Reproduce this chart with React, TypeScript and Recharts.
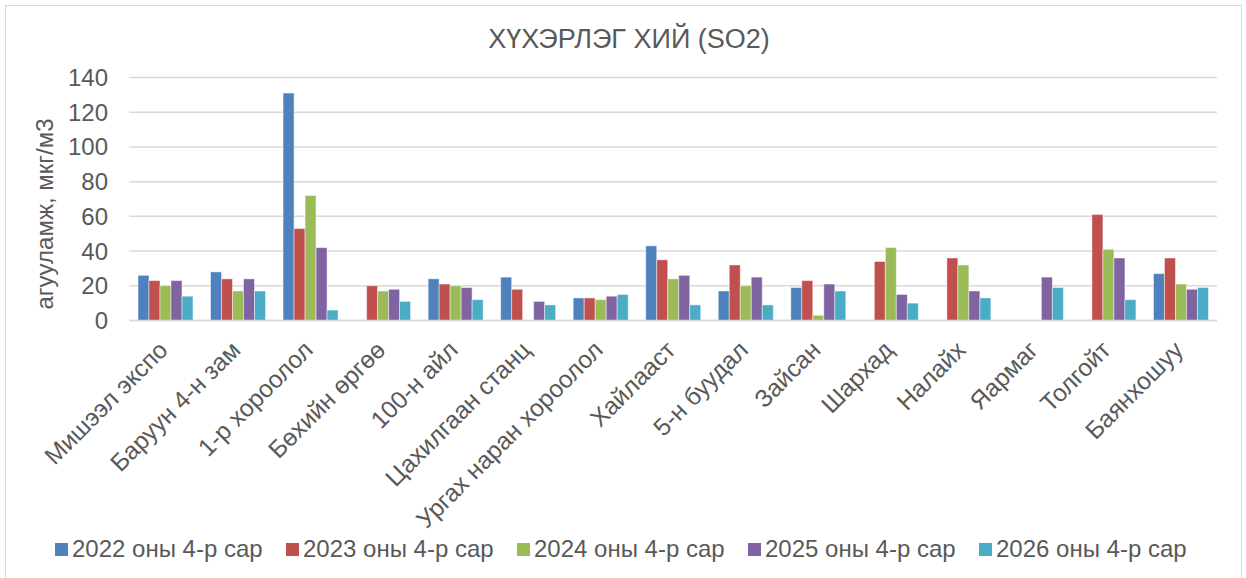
import React from "react";
import { BarChart, Bar, XAxis, YAxis, CartesianGrid, Legend } from "recharts";

const categories = [
  "Мишээл экспо",
  "Баруун 4-н зам",
  "1-р хороолол",
  "Бөхийн өргөө",
  "100-н айл",
  "Цахилгаан станц",
  "Ургах наран хороолол",
  "Хайлааст",
  "5-н буудал",
  "Зайсан",
  "Шархад",
  "Налайх",
  "Яармаг",
  "Толгойт",
  "Баянхошуу",
];

const s2022 = [26, 28, 131, null, 24, 25, 13, 43, 17, 19, null, null, null, null, 27];
const s2023 = [23, 24, 53, 20, 21, 18, 13, 35, 32, 23, 34, 36, null, 61, 36];
const s2024 = [20, 17, 72, 17, 20, null, 12, 24, 20, 3, 42, 32, null, 41, 21];
const s2025 = [23, 24, 42, 18, 19, 11, 14, 26, 25, 21, 15, 17, 25, 36, 18];
const s2026 = [14, 17, 6, 11, 12, 9, 15, 9, 9, 17, 10, 13, 19, 12, 19];

const seriesNames = [
  "2022 оны 4-р сар",
  "2023 оны 4-р сар",
  "2024 оны 4-р сар",
  "2025 оны 4-р сар",
  "2026 оны 4-р сар",
];
const seriesColors = ["#4F81BD", "#C0504D", "#9BBB59", "#8064A2", "#4BACC6"];
const yTicks = [0, 20, 40, 60, 80, 100, 120, 140];

const title = "ХҮХЭРЛЭГ ХИЙ (SO2)";
const yLabel = "агууламж, мкг/м3";

const seriesValues = [s2022, s2023, s2024, s2025, s2026];
const keys = ["y2022", "y2023", "y2024", "y2025", "y2026"];

const data = categories.map((name, i) => {
  const row: Record<string, any> = { name };
  keys.forEach((k, j) => {
    row[k] = seriesValues[j][i];
  });
  return row;
});

const FONT = "'Liberation Sans', Arial, sans-serif";
const TEXT = "#595959";
const GRID = "#d9d9d9";

const XTick = (props: any) => {
  const { x, y, payload } = props;
  return (
    <text
      transform={`translate(${x + 4},${y + 23}) rotate(-45)`}
      textAnchor="end"
      fontSize={24.5}
      fontFamily={FONT}
      fill={TEXT}
    >
      {payload.value}
    </text>
  );
};

const LegendContent = () => (
  <div style={{ position: "relative", height: 40, fontFamily: FONT }}>
    {seriesNames.map((n, i) => (
      <div
        key={n}
        style={{
          position: "absolute",
          left: 55 + i * 231,
          top: 0,
          height: 30,
          display: "flex",
          alignItems: "center",
          whiteSpace: "nowrap",
        }}
      >
        <span
          style={{
            display: "inline-block",
            width: 13,
            height: 13,
            background: seriesColors[i],
            marginRight: 4,
          }}
        />
        <span style={{ fontSize: 24, color: TEXT, lineHeight: "30px" }}>{n}</span>
      </div>
    ))}
  </div>
);

export default function App() {
  return (
    <div
      style={{
        position: "absolute",
        left: 0,
        top: 0,
        width: 1246,
        height: 578,
        background: "#fff",
        overflow: "hidden",
      }}
    >
      <div
        style={{
          position: "absolute",
          left: 5,
          top: 5,
          width: 1235,
          height: 600,
          border: "1.5px solid #d9d9d9",
        }}
      />
      <div
        style={{
          position: "absolute",
          left: 6,
          top: 24,
          width: 1246,
          textAlign: "center",
          fontFamily: FONT,
          fontSize: 27,
          color: TEXT,
          lineHeight: "31px",
        }}
      >
        {title}
      </div>
      <div style={{ position: "absolute", left: 0, top: 0 }}>
        <BarChart
          width={1246}
          height={578}
          data={data}
          margin={{ top: 77.5, right: 29, left: 49, bottom: 0 }}
          barCategoryGap="12.4%"
          barGap={0}
        >
          <CartesianGrid vertical={false} stroke={GRID} strokeWidth={1.5} />
          <XAxis
            dataKey="name"
            interval={0}
            tickLine={false}
            axisLine={{ stroke: GRID, strokeWidth: 1.5 }}
            tick={<XTick />}
            height={200.5}
          />
          <YAxis
            domain={[0, 140]}
            ticks={yTicks}
            axisLine={false}
            tickLine={false}
            width={80}
            tickMargin={15}
            tick={{ fontSize: 24, fill: TEXT, fontFamily: FONT }}
            label={{
              content: () => (
                <text
                  x={53}
                  y={214}
                  transform="rotate(-90 53 214)"
                  textAnchor="middle"
                  fontSize={24}
                  fontFamily={FONT}
                  fill={TEXT}
                >
                  {yLabel}
                </text>
              ),
            }}
          />
          <Legend
            verticalAlign="bottom"
            height={57}
            wrapperStyle={{ top: 534, left: 0, width: 1246 }}
            content={<LegendContent />}
          />
          {keys.map((k, j) => (
            <Bar
              key={k}
              dataKey={k}
              name={seriesNames[j]}
              fill={seriesColors[j]}
              stroke="rgba(255,255,255,0.45)"
              strokeWidth={1}
              isAnimationActive={false}
            />
          ))}
        </BarChart>
      </div>
    </div>
  );
}
